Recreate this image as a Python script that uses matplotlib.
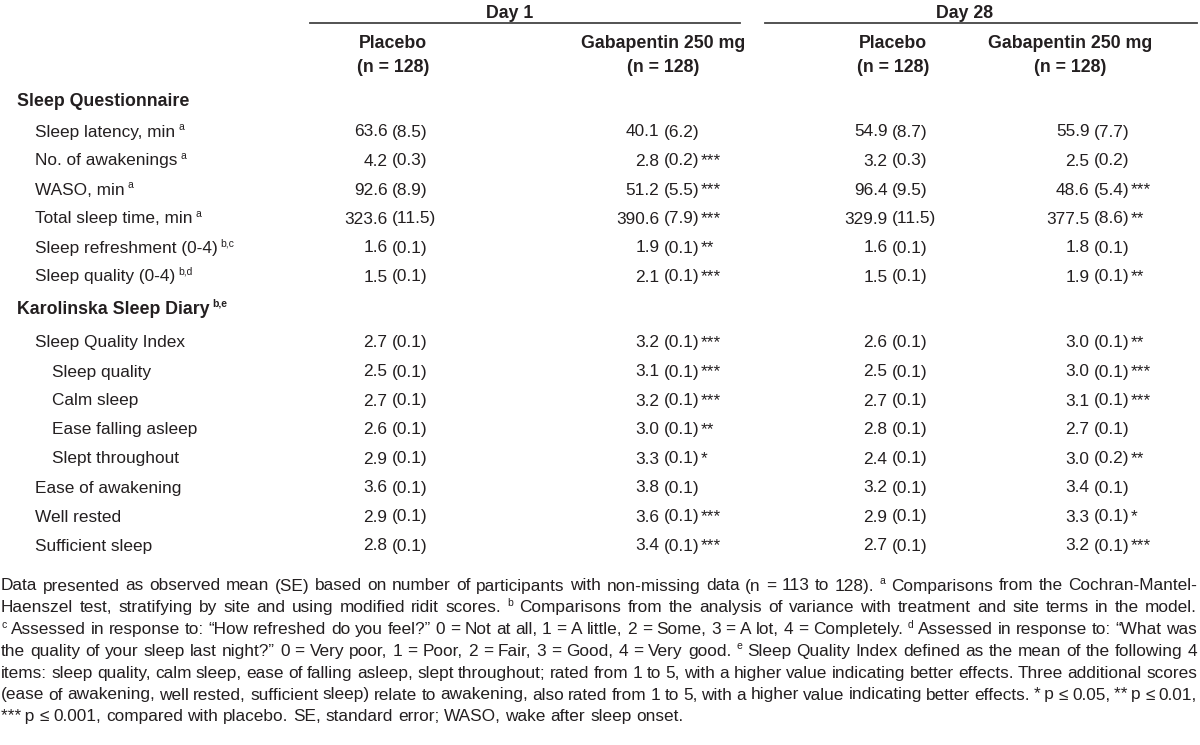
import matplotlib
matplotlib.use('Agg')
import matplotlib.pyplot as plt
from matplotlib.lines import Line2D

# Table values
labels = ['Sleep latency, min', 'No. of awakenings', 'WASO, min', 'Total sleep time, min',
          'Sleep refreshment (0-4)', 'Sleep quality (0-4)',
          'Sleep Quality Index', 'Sleep quality', 'Calm sleep', 'Ease falling asleep',
          'Slept throughout', 'Ease of awakening', 'Well rested', 'Sufficient sleep']
label_sup = ['a', 'a', 'a', 'a', 'b,c', 'b,d', '', '', '', '', '', '', '', '']
indent = [1, 1, 1, 1, 1, 1, 1, 2, 2, 2, 2, 1, 1, 1]

d1_pbo_mean = [63.6, 4.2, 92.6, 323.6, 1.6, 1.5, 2.7, 2.5, 2.7, 2.6, 2.9, 3.6, 2.9, 2.8]
d1_pbo_se = [8.5, 0.3, 8.9, 11.5, 0.1, 0.1, 0.1, 0.1, 0.1, 0.1, 0.1, 0.1, 0.1, 0.1]
d1_gaba_mean = [40.1, 2.8, 51.2, 390.6, 1.9, 2.1, 3.2, 3.1, 3.2, 3.0, 3.3, 3.8, 3.6, 3.4]
d1_gaba_se = [6.2, 0.2, 5.5, 7.9, 0.1, 0.1, 0.1, 0.1, 0.1, 0.1, 0.1, 0.1, 0.1, 0.1]
d1_gaba_sig = ['', '***', '***', '***', '**', '***', '***', '***', '***', '**', '*', '', '***', '***']
d28_pbo_mean = [54.9, 3.2, 96.4, 329.9, 1.6, 1.5, 2.6, 2.5, 2.7, 2.8, 2.4, 3.2, 2.9, 2.7]
d28_pbo_se = [8.7, 0.3, 9.5, 11.5, 0.1, 0.1, 0.1, 0.1, 0.1, 0.1, 0.1, 0.1, 0.1, 0.1]
d28_gaba_mean = [55.9, 2.5, 48.6, 377.5, 1.8, 1.9, 3.0, 3.0, 3.1, 2.7, 3.0, 3.4, 3.3, 3.2]
d28_gaba_se = [7.7, 0.2, 5.4, 8.6, 0.1, 0.1, 0.1, 0.1, 0.1, 0.1, 0.2, 0.1, 0.1, 0.1]
d28_gaba_sig = ['', '', '***', '**', '', '**', '**', '***', '***', '', '**', '', '*', '***']

footnote = [
    'Data presented as observed mean (SE) based on number of participants with non-missing data (n = 113 to 128). ^a Comparisons from the Cochran-Mantel-',
    'Haenszel test, stratifying by site and using modified ridit scores. ^b Comparisons from the analysis of variance with treatment and site terms in the model.',
    '^c Assessed in response to: \u201cHow refreshed do you feel?\u201d 0 = Not at all, 1 = A little, 2 = Some, 3 = A lot, 4 = Completely. ^d Assessed in response to: \u201cWhat was',
    'the quality of your sleep last night?\u201d 0 = Very poor, 1 = Poor, 2 = Fair, 3 = Good, 4 = Very good. ^e Sleep Quality Index defined as the mean of the following 4',
    'items: sleep quality, calm sleep, ease of falling asleep, slept throughout; rated from 1 to 5, with a higher value indicating better effects. Three additional scores',
    '(ease of awakening, well rested, sufficient sleep) relate to awakening, also rated from 1 to 5, with a higher value indicating better effects. *\u2009p \u2264 0.05, **\u2009p \u2264 0.01,',
    '***\u2009p \u2264 0.001, compared with placebo. SE, standard error; WASO, wake after sleep onset.',
]

W, H = 1200, 745
col = '#231f20'
fam = ['Liberation Sans', 'DejaVu Sans']
fs = 12.4
fs_b = 12.8
fs_sup = 7.5
base = 5.5   # baseline offset below the row centre, px

fig = plt.figure(figsize=(W / 100, H / 100), dpi=100)
fig.patch.set_facecolor('white')
r = fig.canvas.get_renderer()


def txt(x, y, s, size=fs, weight='normal', ha='left'):
    # y is the row centre in pixels; text sits on a common baseline
    return fig.text(x / W, 1 - (y + base) / H, s, fontsize=size, fontweight=weight, ha=ha,
                    va='baseline', color=col, family=fam)


def sup(x, y, s, weight='normal'):
    return txt(x, y - 6.5, s, size=fs_sup, weight=weight)


def width(t):
    return t.get_window_extent(r).width


# column headers
txt(510, 12, 'Day 1', size=fs_b, weight='bold', ha='center')
txt(965, 12, 'Day 28', size=fs_b, weight='bold', ha='center')
for x0, x1 in [(310, 740), (765, 1197)]:
    fig.add_artist(Line2D([x0 / W, x1 / W], [1 - 23 / H, 1 - 23 / H], color='#444444', lw=1.3))
for xc, name in [(393, 'Placebo'), (663, 'Gabapentin 250 mg'), (893, 'Placebo'), (1070, 'Gabapentin 250 mg')]:
    txt(xc, 43, name, size=fs_b, weight='bold', ha='center')
    txt(xc, 66, '(n = 128)', size=fs_b, weight='bold', ha='center')

# section headers
txt(17, 101, 'Sleep Questionnaire', size=fs_b, weight='bold')
t = txt(17, 308, 'Karolinska Sleep Diary', size=fs_b, weight='bold')
sup(17 + width(t) + 3, 308, 'b,e', weight='bold')

row_y = [131, 160, 189, 218, 247, 276, 342, 371, 400, 429, 458, 487, 516, 545]
ind_x = {1: 35, 2: 52}

columns = [
    (392, d1_pbo_mean, d1_pbo_se, None),
    (664, d1_gaba_mean, d1_gaba_se, d1_gaba_sig),
    (892, d28_pbo_mean, d28_pbo_se, None),
    (1094, d28_gaba_mean, d28_gaba_se, d28_gaba_sig),
]

for i, lab in enumerate(labels):
    y = row_y[i]
    t = txt(ind_x[indent[i]], y, lab)
    if label_sup[i]:
        sup(ind_x[indent[i]] + width(t) + 3, y, label_sup[i])
    for px, means, ses, sig in columns:
        txt(px - 4.5, y, f'{means[i]:.1f}', ha='right')
        s = txt(px, y, f'({ses[i]:.1f})')
        if sig and sig[i]:
            txt(px + width(s) + 1.5, y, sig[i])

# natural width of a space
a1 = txt(0, 0, 'a a')
a2 = txt(0, 0, 'aa')
space_w = width(a1) - width(a2)
a1.remove()
a2.remove()

# footnote, justified
fn_y0, fn_dy = 585, 21.8
x_left, x_right = 1, 1197
for li, line in enumerate(footnote):
    y = fn_y0 + li * fn_dy
    arts = []
    for tk in line.split(' '):
        if tk.startswith('^'):
            arts.append(sup(0, y, tk[1:]))
        else:
            arts.append(txt(0, y, tk))
    ws = [width(a) for a in arts]
    gap = space_w
    if li < len(footnote) - 1:
        gap = max((x_right - x_left - sum(ws)) / (len(arts) - 1), 0.6 * space_w)
    x = x_left
    for a, w in zip(arts, ws):
        a.set_x(x / W)
        x += w + gap

fig.savefig('out.png', dpi=100, facecolor='white')
